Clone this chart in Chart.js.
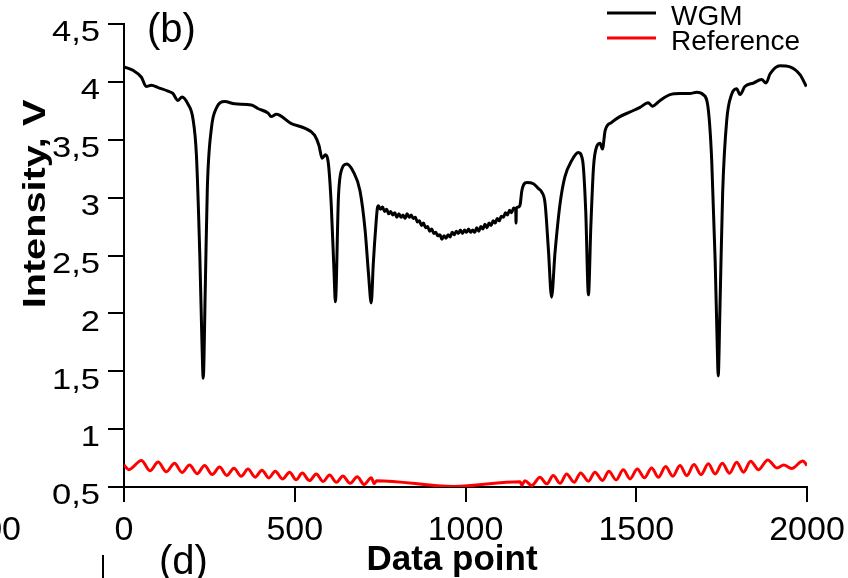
<!DOCTYPE html>
<html>
<head>
<meta charset="utf-8">
<script src="https://cdn.jsdelivr.net/npm/chart.js@4/dist/chart.umd.min.js"></script>
<style>
  html, body { margin: 0; padding: 0; background: #fff; }
  #wrap { width: 848px; height: 578px; position: relative; }
</style>
</head>
<body>
<div id="wrap"><canvas id="c" width="848" height="578"></canvas></div>
<script>
// ---- Data ----
const seriesNames = ["WGM", "Reference"];
const seriesColors = ["#000000", "#ff0000"];
const xTickValues = [0, 500, 1000, 1500, 2000];
const yTickValues = [0.5, 1, 1.5, 2, 2.5, 3, 3.5, 4, 4.5];

const wgmX = [0, 26, 51, 65, 80, 100, 129, 143, 158, 170, 187, 202, 212, 222, 228, 232, 238, 244, 256, 270,
  295, 324, 373, 392, 422, 431, 446, 490, 529, 558, 571, 580, 590, 599, 607, 615, 619, 628, 637, 652,
  672, 691, 706, 716, 724, 730, 738, 742,
  745, 751, 757, 763, 769, 775, 781, 787, 793, 799, 805, 811, 817, 823, 829, 835, 841, 847, 853, 859,
  865, 871, 877, 883, 889, 895, 901, 907, 913, 919, 925, 931, 937, 943, 949, 955, 961, 967, 973, 979,
  985, 991, 997, 1003, 1009, 1015, 1021, 1027, 1033, 1039, 1045, 1051, 1057, 1063, 1069, 1075, 1081, 1087,
  1093, 1099, 1105, 1111, 1117, 1123, 1129, 1135, 1141, 1147, 1148, 1149, 1155, 1160,
  1165, 1179, 1199, 1213, 1223, 1233, 1243, 1252, 1262, 1277, 1291, 1311, 1330, 1343, 1352, 1360, 1367,
  1375, 1384, 1394, 1401, 1409, 1428, 1452, 1482, 1511, 1535, 1547, 1570, 1599, 1628, 1657, 1677, 1696,
  1711, 1721, 1731, 1737, 1740, 1745, 1753, 1765, 1779, 1794, 1804, 1818, 1843, 1867, 1880, 1892, 1921,
  1950, 1980, 1998];
const wgmY = [4.13, 4.10, 4.04, 3.96, 3.97, 3.95, 3.92, 3.90, 3.84, 3.87, 3.81, 3.68, 3.37, 2.50, 1.78, 1.44, 2.22, 3.08, 3.60, 3.77,
  3.83, 3.81, 3.80, 3.77, 3.73, 3.70, 3.72, 3.64, 3.60, 3.54, 3.45, 3.34, 3.37, 3.28, 2.93, 2.36, 2.10, 3.01, 3.24, 3.29,
  3.22, 3.06, 2.72, 2.34, 2.09, 2.43, 2.78, 2.91,
  2.93, 2.90, 2.92, 2.88, 2.90, 2.86, 2.88, 2.85, 2.87, 2.83, 2.86, 2.83, 2.85, 2.82, 2.86, 2.83, 2.85, 2.82, 2.83, 2.79,
  2.80, 2.76, 2.78, 2.74, 2.75, 2.71, 2.73, 2.69, 2.70, 2.67, 2.68, 2.64, 2.67, 2.65, 2.68, 2.66, 2.70, 2.68, 2.71, 2.69,
  2.72, 2.69, 2.72, 2.70, 2.73, 2.70, 2.72, 2.70, 2.74, 2.71, 2.75, 2.73, 2.77, 2.74, 2.78, 2.76, 2.80, 2.78,
  2.82, 2.80, 2.84, 2.83, 2.87, 2.85, 2.89, 2.87, 2.91, 2.90, 2.78, 2.91, 2.92, 2.94,
  3.06, 3.13, 3.12, 3.08, 3.05, 2.95, 2.54, 2.14, 2.52, 2.95, 3.18, 3.32, 3.39, 3.32, 2.89, 2.16, 2.75,
  3.27, 3.44, 3.47, 3.42, 3.58, 3.65, 3.70, 3.74, 3.78, 3.82, 3.79, 3.84, 3.89, 3.90, 3.90, 3.91, 3.89,
  3.76, 3.32, 2.46, 1.74, 1.46, 2.03, 3.04, 3.67, 3.89, 3.94, 3.89, 3.96, 3.99, 4.02, 3.99, 4.07, 4.14,
  4.13, 4.06, 3.96];

const refX = [0, 14, 51, 76, 100, 124, 148, 170, 192, 214, 236, 258, 280, 301, 322, 343, 363, 384, 404, 424,
  443, 464, 485, 504, 522, 543, 563, 583, 602, 622, 641, 662, 683, 703, 724, 733, 740,
  965, 1160, 1165, 1174, 1194, 1218, 1238, 1257, 1277, 1296, 1318, 1337, 1360, 1379, 1401, 1420, 1441,
  1462, 1482, 1503, 1524, 1545, 1565, 1586, 1607, 1628, 1648, 1669, 1690, 1711, 1731, 1752, 1773, 1794,
  1814, 1835, 1858, 1885, 1912, 1932, 1955, 1988, 2000];
const refY = [0.69, 0.65, 0.73, 0.64, 0.715, 0.632, 0.705, 0.625, 0.69, 0.615, 0.685, 0.608, 0.672, 0.600, 0.662, 0.592, 0.655, 0.585, 0.645, 0.578,
  0.637, 0.570, 0.628, 0.562, 0.620, 0.556, 0.612, 0.548, 0.603, 0.540, 0.595, 0.532, 0.588, 0.522, 0.580, 0.530, 0.555,
  0.505, 0.545, 0.515, 0.555, 0.512, 0.584, 0.527, 0.599, 0.532, 0.613, 0.541, 0.622, 0.550, 0.628, 0.556, 0.636, 0.561,
  0.648, 0.570, 0.656, 0.579, 0.665, 0.584, 0.677, 0.593, 0.685, 0.599, 0.694, 0.607, 0.700, 0.613, 0.705, 0.619, 0.714,
  0.628, 0.723, 0.650, 0.734, 0.665, 0.690, 0.660, 0.725, 0.685];

const xTitle = "Data point";
const yTitle = "Intensity, V";
const panelLabel = "(b)";

// ---- Build ----
function pts(xs, ys) { return xs.map((x, i) => ({ x: x, y: ys[i] })); }
function fmt(v) { return String(v).replace('.', ','); }

const FONT = '"Liberation Sans", Arial, sans-serif';

const decor = {
  id: 'decor',
  afterDraw(chart) {
    const ctx = chart.ctx;
    const xs = chart.scales.x, ys = chart.scales.y;
    ctx.save();
    ctx.fillStyle = '#000';
    // y tick labels
    ctx.font = '30px ' + FONT;
    ctx.textAlign = 'right';
    ctx.textBaseline = 'middle';
    yTickValues.forEach(v => {
      const py = ys.getPixelForValue(v);
      ctx.save();
      ctx.translate(100, py + 9);
      ctx.scale(1.15, 1);
      ctx.fillText(fmt(v), 0, 0);
      ctx.restore();
    });
    // x tick labels
    ctx.font = '34px ' + FONT;
    ctx.textAlign = 'center';
    ctx.textBaseline = 'alphabetic';
    xTickValues.forEach(v => {
      const px = xs.getPixelForValue(v);
      ctx.fillText(fmt(v), px, 540);
    });
    // axis titles
    ctx.font = 'bold 35px ' + FONT;
    ctx.textAlign = 'center';
    ctx.fillText(xTitle, 452, 570);
    ctx.save();
    ctx.translate(45, 204);
    ctx.rotate(-Math.PI / 2);
    ctx.scale(1.24, 1);
    ctx.font = 'bold 32px ' + FONT;
    ctx.textAlign = 'center';
    ctx.textBaseline = 'alphabetic';
    ctx.fillText(yTitle, 0, 0);
    ctx.restore();
    // panel label
    ctx.font = '40px ' + FONT;
    ctx.textAlign = 'left';
    ctx.fillText(panelLabel, 147, 42);
    // fragments of neighbouring panels
    ctx.font = '34px ' + FONT;
    ctx.textAlign = 'right';
    ctx.fillText("00", 21, 540);
    ctx.font = '40px ' + FONT;
    ctx.textAlign = 'left';
    ctx.fillText("(d)", 159, 574);
    ctx.strokeStyle = '#000';
    ctx.lineWidth = 2;
    ctx.beginPath();
    ctx.moveTo(103, 555);
    ctx.lineTo(103, 578);
    ctx.stroke();
    // legend
    const legY = [13, 38];
    ctx.font = '28px ' + FONT;
    ctx.textBaseline = 'middle';
    chart.data.datasets.forEach((ds, i) => {
      ctx.strokeStyle = ds.borderColor;
      ctx.lineWidth = 3;
      ctx.beginPath();
      ctx.moveTo(607, legY[i]);
      ctx.lineTo(656, legY[i]);
      ctx.stroke();
      ctx.fillStyle = '#000';
      ctx.fillText(ds.label, 671, legY[i] + 4);
    });
    ctx.restore();
  }
};

new Chart(document.getElementById('c'), {
  type: 'scatter',
  data: {
    datasets: [
      { label: seriesNames[0], data: pts(wgmX, wgmY), borderColor: seriesColors[0], backgroundColor: seriesColors[0],
        showLine: true, pointRadius: 0, borderWidth: 3, cubicInterpolationMode: 'monotone' },
      { label: seriesNames[1], data: pts(refX, refY), borderColor: seriesColors[1], backgroundColor: seriesColors[1],
        showLine: true, pointRadius: 0, borderWidth: 3, cubicInterpolationMode: 'monotone' }
    ]
  },
  options: {
    responsive: false,
    animation: false,
    events: [],
    layout: { padding: { top: 24, right: 41, left: 0, bottom: 0 } },
    plugins: { legend: { display: false }, tooltip: { enabled: false } },
    scales: {
      x: {
        type: 'linear', min: 0, max: 2000,
        ticks: { display: false, stepSize: 500 },
        grid: { display: true, drawOnChartArea: false, drawTicks: true, tickLength: 15, color: '#000', lineWidth: 2 },
        border: { display: true, color: '#000', width: 2 },
        afterFit(s) { s.height = 91; }
      },
      y: {
        type: 'linear', min: 0.5, max: 4.5,
        ticks: { display: false, stepSize: 0.5 },
        grid: { display: true, drawOnChartArea: false, drawTicks: true, tickLength: 16, color: '#000', lineWidth: 2 },
        border: { display: true, color: '#000', width: 2 },
        afterFit(s) { s.width = 124; }
      }
    }
  },
  plugins: [decor]
});
</script>
</body>
</html>
